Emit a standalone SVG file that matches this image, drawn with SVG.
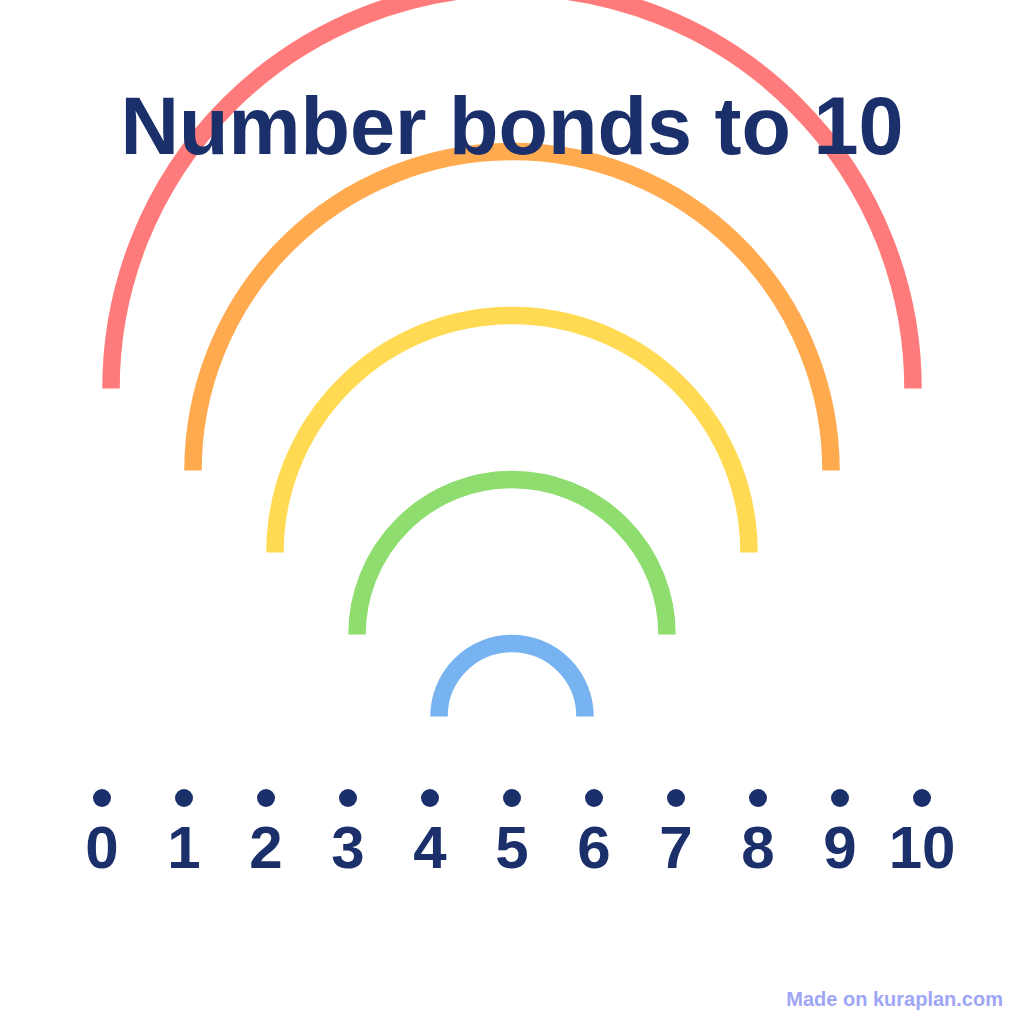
<svg xmlns="http://www.w3.org/2000/svg" width="1024" height="1024" viewBox="0 0 1024 1024">
  <style>
    .arc { fill: none; stroke-width: 17.5; stroke-linecap: butt; }
    .dot { fill: #1b2f6b; }
    .num { font-family: "Liberation Sans", Arial, sans-serif; font-weight: bold; font-size: 60px; fill: #1b2f6b; text-anchor: middle; }
    .title { font-family: "Liberation Sans", Arial, sans-serif; font-weight: bold; font-size: 81px; fill: #1b2f6b; text-anchor: middle; }
    .mark { font-family: "Liberation Sans", Arial, sans-serif; font-weight: bold; font-size: 20px; fill: #a0a6f6; text-anchor: end; }
  </style>
  <rect width="1024" height="1024" fill="#ffffff"/>
  <g id="connectors">
    <path id="arc-0-10" class="arc" stroke="#ff7a7a" d="M111 388.5 A401 401 0 0 1 913 388.5"/>
    <path id="arc-1-9" class="arc" stroke="#ffaa4f" d="M193 470.5 A319 319 0 0 1 831 470.5"/>
    <path id="arc-2-8" class="arc" stroke="#ffda52" d="M275 552.5 A237 237 0 0 1 749 552.5"/>
    <path id="arc-3-7" class="arc" stroke="#8edd6e" d="M357 634.5 A155 155 0 0 1 667 634.5"/>
    <path id="arc-4-6" class="arc" stroke="#77b3f0" d="M439 716.5 A73 73 0 0 1 585 716.5"/>
  </g>
  <g id="title"><text class="title" x="512" y="154">Number bonds to 10</text></g>
  <g id="n0"><circle class="dot" cx="102" cy="798" r="9"/><text class="num" x="102" y="868">0</text></g>
  <g id="n1"><circle class="dot" cx="184" cy="798" r="9"/><text class="num" x="184" y="868">1</text></g>
  <g id="n2"><circle class="dot" cx="266" cy="798" r="9"/><text class="num" x="266" y="868">2</text></g>
  <g id="n3"><circle class="dot" cx="348" cy="798" r="9"/><text class="num" x="348" y="868">3</text></g>
  <g id="n4"><circle class="dot" cx="430" cy="798" r="9"/><text class="num" x="430" y="868">4</text></g>
  <g id="n5"><circle class="dot" cx="512" cy="798" r="9"/><text class="num" x="512" y="868">5</text></g>
  <g id="n6"><circle class="dot" cx="594" cy="798" r="9"/><text class="num" x="594" y="868">6</text></g>
  <g id="n7"><circle class="dot" cx="676" cy="798" r="9"/><text class="num" x="676" y="868">7</text></g>
  <g id="n8"><circle class="dot" cx="758" cy="798" r="9"/><text class="num" x="758" y="868">8</text></g>
  <g id="n9"><circle class="dot" cx="840" cy="798" r="9"/><text class="num" x="840" y="868">9</text></g>
  <g id="n10"><circle class="dot" cx="922" cy="798" r="9"/><text class="num" x="922" y="868">10</text></g>
  <g id="watermark"><text class="mark" x="1003" y="1006">Made on kuraplan.com</text></g>
</svg>
